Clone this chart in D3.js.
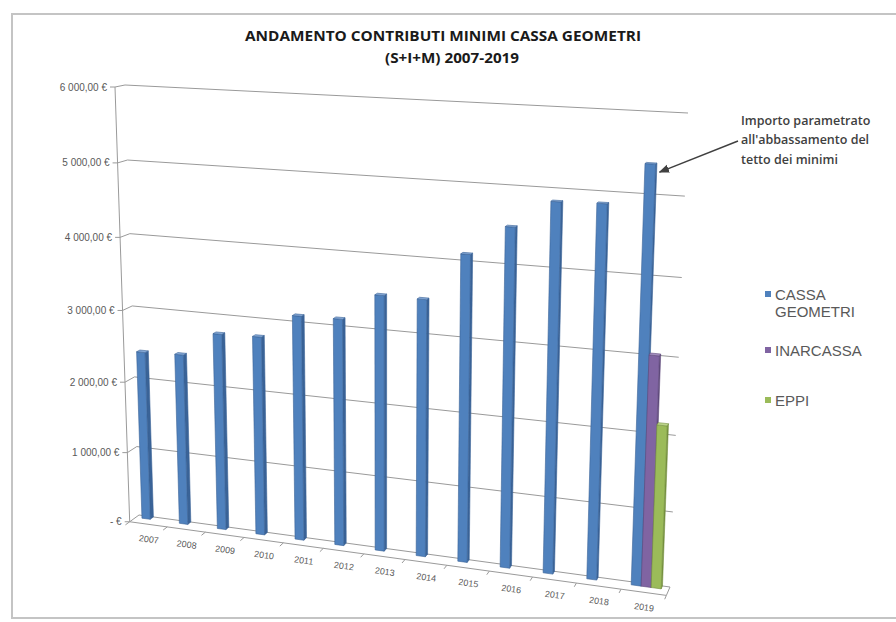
<!DOCTYPE html>
<html lang="it">
<head>
<meta charset="utf-8">
<title>Andamento contributi minimi Cassa Geometri</title>
<script src="https://d3js.org/d3.v7.min.js"></script>
<style>
  body { margin: 0; background: #fff; }
  svg { display: block; }
</style>
</head>
<body>
<svg width="896" height="622"></svg>
<script>
// --- dati ---
var years = ["2007","2008","2009","2010","2011","2012","2013","2014","2015","2016","2017","2018","2019"];
var series = ["CASSA GEOMETRI", "INARCASSA", "EPPI"];
var cassaGeometri = [2390, 2410, 2750, 2765, 3100, 3110, 3475, 3470, 4100, 4490, 4845, 4860, 5380];
var inarcassa     = [null, null, null, null, null, null, null, null, null, null, null, null, 3020];
var eppi          = [null, null, null, null, null, null, null, null, null, null, null, null, 2140];
var valueTicks = [0, 1000, 2000, 3000, 4000, 5000, 6000];
var valueTickLabels = ["- €", "1 000,00 €", "2 000,00 €", "3 000,00 €", "4 000,00 €", "5 000,00 €", "6 000,00 €"];
var legendLabels = [["CASSA", "GEOMETRI"], ["INARCASSA"], ["EPPI"]];
var colors = ["#4f81bd", "#8064a2", "#9bbb59"];
var sideColors = ["#3a6397", "#5f4a7c", "#76913f"];
var topColors = ["#86a9d6", "#a48fc0", "#bcd58a"];

var svg = d3.select("svg");

// --- prospettiva 3D: parete di fondo (X 0..1, Y 0..1) e profondita' Z (0 fondo, 1 davanti) ---
var wallBL = [139, 515], wallBR = [670, 587], wallTR = [688, 113], wallTL = [125, 85];
var vpDepth = [960, -82];     // punto di fuga della profondita'
var frontTLx = 115;           // spigolo anteriore della parete laterale in alto

function squareToQuad(p0, p1, p2, p3) {
    var dx1 = p1[0] - p2[0], dx2 = p3[0] - p2[0], dx3 = p0[0] - p1[0] + p2[0] - p3[0];
    var dy1 = p1[1] - p2[1], dy2 = p3[1] - p2[1], dy3 = p0[1] - p1[1] + p2[1] - p3[1];
    var den = dx1 * dy2 - dx2 * dy1;
    var g = (dx3 * dy2 - dx2 * dy3) / den;
    var h = (dx1 * dy3 - dx3 * dy1) / den;
    return {
        a: p1[0] - p0[0] + g * p1[0], b: p3[0] - p0[0] + h * p3[0], c: p0[0],
        d: p1[1] - p0[1] + g * p1[1], e: p3[1] - p0[1] + h * p3[1], f: p0[1],
        g: g, h: h
    };
}
var H = squareToQuad(wallBL, wallBR, wallTR, wallTL);
var alpha = (H.h + 1) * (frontTLx - wallTL[0]) / (vpDepth[0] - frontTLx);

function project(X, Y, Z) {
    var hx = H.a * X + H.b * Y + H.c + Z * alpha * vpDepth[0];
    var hy = H.d * X + H.e * Y + H.f + Z * alpha * vpDepth[1];
    var hw = H.g * X + H.h * Y + 1 + Z * alpha;
    return [hx / hw, hy / hw];
}
var line = d3.line();
function poly(pts) { return line(pts) + "Z"; }

// --- scale ---
var x = d3.scaleBand().domain(years).range([0, 1]);
var xs = d3.scaleBand().domain(series).range([0, x.bandwidth()]).paddingInner(0).paddingOuter(0.75);
var y = d3.scaleLinear().domain([0, 6000]).range([0, 1]);
var zBack = 0.0, zFront = 0.35;

var gridColor = "#9a9a9a";
var grid = svg.append("g").attr("fill", "none").attr("stroke", gridColor).attr("stroke-width", 1);

// griglia: parete laterale + parete di fondo
valueTicks.forEach(function (v) {
    grid.append("path").attr("d", line([project(0, y(v), 1), project(0, y(v), 0), project(1, y(v), 0)]));
});
// pavimento
grid.append("path").attr("d", line([project(1, 0, 0), project(1, 0, 1), project(0, 0, 1)]));
// asse verticale
grid.append("path").attr("d", line([project(0, 0, 1), project(0, 1, 1)]));

// tacche e etichette asse valori
var axisY = svg.append("g");
valueTicks.forEach(function (v, i) {
    var p = project(0, y(v), 1);
    axisY.append("line").attr("x1", p[0] - 5).attr("x2", p[0]).attr("y1", p[1]).attr("y2", p[1])
        .attr("stroke", gridColor);
    axisY.append("text").attr("x", p[0] - 8).attr("y", p[1]).attr("dy", "0.35em")
        .attr("text-anchor", "end").attr("font-family", "Liberation Sans, Arial, sans-serif")
        .attr("font-size", 10).attr("fill", "#595959").text(valueTickLabels[i]);
});

// tacche e etichette asse categorie
var axisX = svg.append("g");
years.forEach(function (yr, i) {
    var X0 = x(yr);
    var a = project(X0, 0, 1), b = project(X0, 0, 1.45);
    axisX.append("line").attr("x1", a[0]).attr("y1", a[1]).attr("x2", b[0]).attr("y2", b[1]).attr("stroke", gridColor);
    var c = project(X0 + x.bandwidth() / 2, 0, 1);
    var l = project(X0, 0, 1), r = project(X0 + x.bandwidth(), 0, 1);
    var ang = Math.atan2(r[1] - l[1], r[0] - l[0]) * 180 / Math.PI;
    axisX.append("text")
        .attr("transform", "translate(" + c[0] + "," + (c[1] + 18) + ") rotate(" + ang + ")")
        .attr("text-anchor", "middle").attr("font-family", "Liberation Sans, Arial, sans-serif")
        .attr("font-size", 9).attr("fill", "#595959").text(yr);
});
(function () {
    var a = project(1, 0, 1), b = project(1, 0, 1.45);
    axisX.append("line").attr("x1", a[0]).attr("y1", a[1]).attr("x2", b[0]).attr("y2", b[1]).attr("stroke", gridColor);
})();

// --- colonne 3D ---
var seriesValues = [cassaGeometri, inarcassa, eppi];
var bars = svg.append("g");
years.forEach(function (yr, i) {
    series.forEach(function (s, j) {
        var v = seriesValues[j][i];
        if (v == null) return;
        var X0 = x(yr) + xs(s), X1 = X0 + xs.bandwidth(), Y1 = y(v);
        var g = bars.append("g").attr("stroke-width", 0.6).attr("stroke-linejoin", "round");
        // lato destro
        g.append("path").attr("d", poly([project(X1, 0, zFront), project(X1, 0, zBack), project(X1, Y1, zBack), project(X1, Y1, zFront)]))
            .attr("fill", sideColors[j]).attr("stroke", sideColors[j]);
        // faccia anteriore
        g.append("path").attr("d", poly([project(X0, 0, zFront), project(X1, 0, zFront), project(X1, Y1, zFront), project(X0, Y1, zFront)]))
            .attr("fill", colors[j]).attr("stroke", sideColors[j]);
        // sommita'
        g.append("path").attr("d", poly([project(X0, Y1, zFront), project(X1, Y1, zFront), project(X1, Y1, zBack), project(X0, Y1, zBack)]))
            .attr("fill", topColors[j]).attr("stroke", sideColors[j]);
    });
});

// --- titolo ---
svg.append("text").attr("x", 443).attr("y", 41).attr("text-anchor", "middle")
    .attr("font-family", "Open Sans, sans-serif").attr("font-weight", "bold").attr("font-size", 15)
    .attr("textLength", 396).attr("lengthAdjust", "spacingAndGlyphs")
    .attr("fill", "#1a1a1a").text("ANDAMENTO CONTRIBUTI MINIMI CASSA GEOMETRI");
svg.append("text").attr("x", 452).attr("y", 63).attr("text-anchor", "middle")
    .attr("font-family", "Open Sans, sans-serif").attr("font-weight", "bold").attr("font-size", 15)
    .attr("textLength", 134).attr("lengthAdjust", "spacingAndGlyphs")
    .attr("fill", "#1a1a1a").text("(S+I+M) 2007-2019");

// --- legenda ---
var legendY = [294, 350, 400];
var legend = svg.append("g");
legendLabels.forEach(function (lab, j) {
    legend.append("rect").attr("x", 765).attr("y", legendY[j] - 3).attr("width", 6).attr("height", 6).attr("fill", colors[j]);
    lab.forEach(function (t, k) {
        legend.append("text").attr("x", 775).attr("y", legendY[j] + 5.5 + k * 17)
            .attr("font-family", "Liberation Sans, Arial, sans-serif").attr("font-size", 15)
            .attr("fill", "#595959").text(t);
    });
});

// --- nota con freccia ---
var note = ["Importo parametrato", "all'abbassamento del", "tetto dei minimi"];
note.forEach(function (t, k) {
    svg.append("text").attr("x", 741).attr("y", 124.5 + k * 19.5)
        .attr("font-family", "Open Sans, sans-serif").attr("font-size", 12.5).attr("font-weight", 600)
        .attr("fill", "#404040").text(t);
});
svg.append("defs").append("marker").attr("id", "arrow").attr("viewBox", "0 0 10 10")
    .attr("refX", 9).attr("refY", 5).attr("markerWidth", 7).attr("markerHeight", 7).attr("orient", "auto")
    .append("path").attr("d", "M0,1L10,5L0,9Z").attr("fill", "#404040");
var tip = project(x("2019") + xs("CASSA GEOMETRI") + xs.bandwidth(), y(cassaGeometri[12]), zFront);
svg.append("line").attr("x1", 738).attr("y1", 141).attr("x2", tip[0] + 4).attr("y2", tip[1] + 8)
    .attr("stroke", "#404040").attr("stroke-width", 1.5).attr("marker-end", "url(#arrow)");

// --- cornice ---
svg.append("rect").attr("x", 12).attr("y", 14).attr("width", 900).attr("height", 604)
    .attr("fill", "none").attr("stroke", "#c4c4c4").attr("stroke-width", 2);
</script>
</body>
</html>
